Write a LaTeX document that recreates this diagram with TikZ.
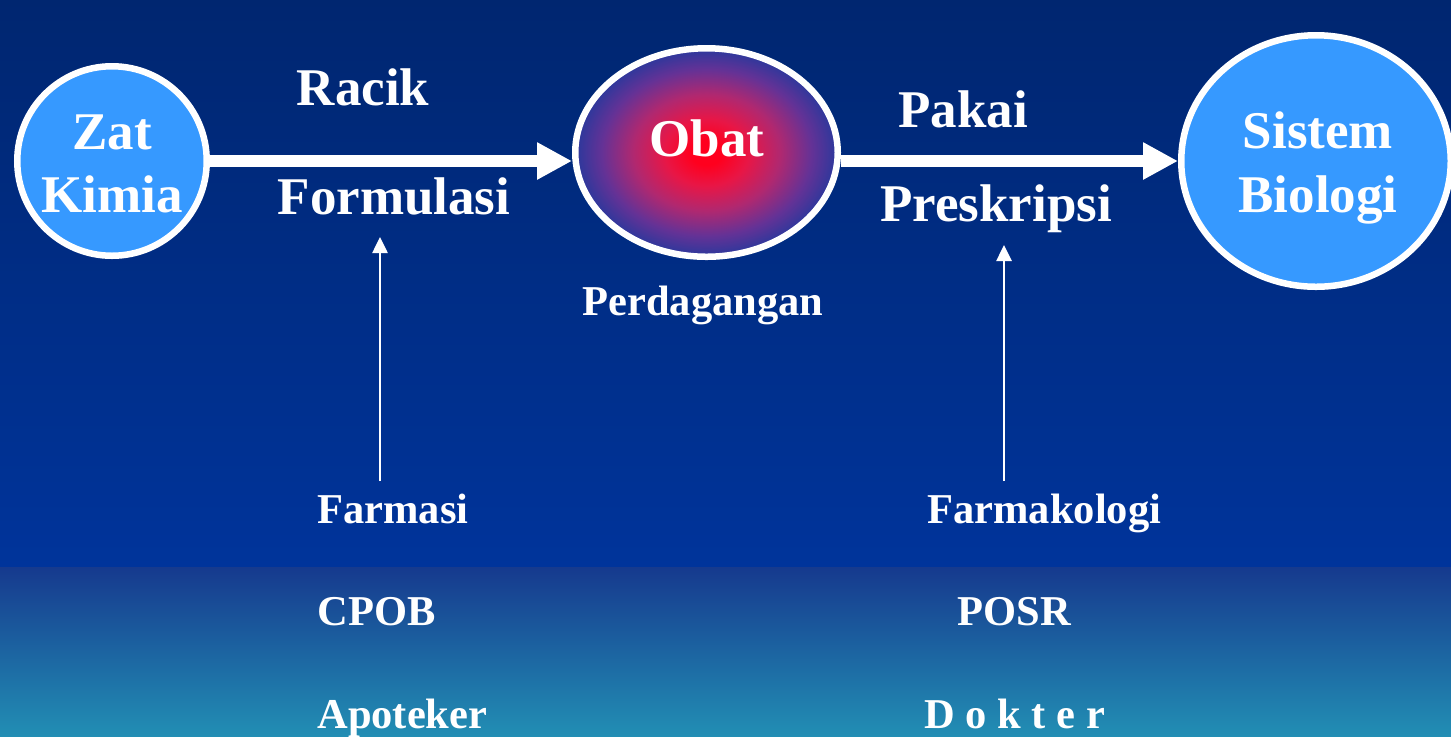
\documentclass[tikz,border=0pt]{standalone}
\usepackage{fontspec}
\setmainfont{Liberation Serif}
\usetikzlibrary{arrows.meta,shapes.geometric}

\definecolor{bgtop}{RGB}{0,38,112}
\definecolor{bgmid}{RGB}{0,52,155}
\definecolor{bglow}{RGB}{22,58,142}
\definecolor{bglowmid}{RGB}{24,100,166}
\definecolor{bgbottom}{RGB}{34,142,180}
\definecolor{bubblefill}{RGB}{54,153,255}
\definecolor{obred}{RGB}{255,0,30}
\definecolor{obrose}{RGB}{232,22,70}
\definecolor{obmag}{RGB}{176,40,112}
\definecolor{obpurple}{RGB}{100,50,150}
\definecolor{obblue}{RGB}{42,56,156}

% radial glow for the central drug bubble (path edge sits at 25bp)
\pgfdeclareradialshading{obatglow}{\pgfpoint{0bp}{0bp}}{%
  color(0bp)=(obred); color(3bp)=(obred); color(8bp)=(obrose);
  color(14bp)=(obmag); color(20bp)=(obpurple); color(25bp)=(obblue);
  color(50bp)=(obblue)}

\tikzset{
  bubble/.style={ellipse, draw=white, line width=3.25pt, fill=bubblefill,
    inner sep=0pt},
  bigtext/.style={text=white, inner sep=0pt, anchor=base,
    font=\fontsize{26.5}{31.5}\selectfont\bfseries},
  midtext/.style={bigtext, font=\fontsize{21.25}{25}\selectfont\bfseries},
  smalltext/.style={text=white, inner sep=0pt, anchor=base west,
    font=\fontsize{21.25}{25}\selectfont\bfseries},
  flowarrow/.style={draw=white, line width=5.75pt,
    -{Triangle[length=17.5pt,width=17.5pt]}},
  supportarrow/.style={draw=white, line width=1.3pt,
    -{Triangle[length=8pt,width=7.5pt]}}
}

\begin{document}
\begin{tikzpicture}[x=0.5pt,y=-0.5pt]
  \useasboundingbox (0,0) rectangle (1451,736);
  \clip (0,0) rectangle (1451,736);

  % background bands
  \shade[top color=bgtop, bottom color=bgmid] (0,0) rectangle (1451,567);
  \shade[top color=bglow, middle color=bglowmid, bottom color=bgbottom]
    (0,567) rectangle (1451,736);

  % main chain
  \node[bubble, minimum width=94.75pt, minimum height=94.75pt] (zat)
    at (112,161) {};
  \node[bigtext] (zattext) at (112,149) {Zat};
  \node[bigtext] (kimiatext) at (112,212) {Kimia};

  \node[ellipse, draw=white, line width=3.25pt, shading=obatglow,
    minimum width=131.25pt, minimum height=104.25pt, inner sep=0pt] (obat)
    at (706.5,152.5) {};
  \node[bigtext] (obattext) at (707,156) {Obat};

  \node[bubble, minimum width=134.75pt, minimum height=125.75pt] (sistem)
    at (1316,161) {};
  \node[bigtext] (sistemtext) at (1318,148) {Sistem};
  \node[bigtext] (biologitext) at (1318,212) {Biologi};

  \draw[flowarrow] (zat.east) -- (obat.west |- zat.east);
  \draw[flowarrow] (obat.east |- sistem.west) -- (sistem.west);

  % labels along the chain
  \node[bigtext] (racik) at (363,105) {Racik};
  \node[bigtext] (formulasi) at (394,214) {Formulasi};
  \node[bigtext] (pakai) at (963,127) {Pakai};
  \node[bigtext] (preskripsi) at (996,221) {Preskripsi};
  \node[midtext] (perdagangan) at (703,315) {Perdagangan};

  % supporting disciplines
  \node[smalltext] (farmasi) at (317,523) {Farmasi};
  \node[smalltext] (cpob) at (317,625) {CPOB};
  \node[smalltext] (apoteker) at (317,728) {Apoteker};
  \node[smalltext] (farmakologi) at (927,523) {Farmakologi};
  \node[smalltext] (posr) at (957,625) {POSR};
  \node[smalltext] (dokter) at (924,728) {D o k t e r};

  \coordinate (farmasitail) at (380,481);
  \coordinate (formulasihead) at (380,237);
  \coordinate (farmakologitail) at (1004,481);
  \coordinate (preskripsihead) at (1004,245);
  \draw[supportarrow] (farmasitail) -- (formulasihead);
  \draw[supportarrow] (farmakologitail) -- (preskripsihead);
\end{tikzpicture}
\end{document}
